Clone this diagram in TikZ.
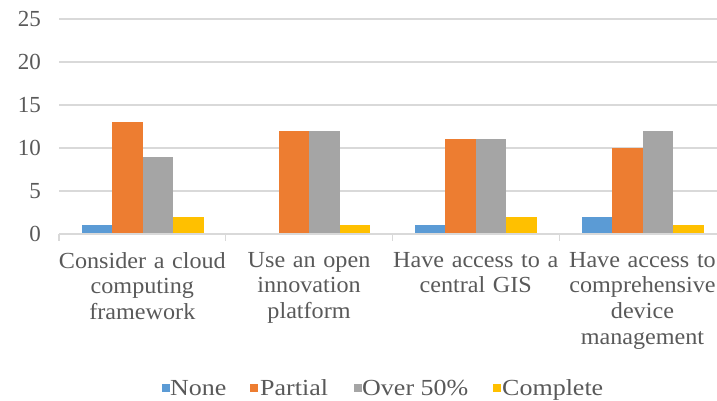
\documentclass[tikz,border=0pt]{standalone}
\usepackage{fontspec}
\setmainfont{Liberation Serif}
\newfontfamily\catfont{Liberation Serif}[FakeStretch=1.05]
\newfontfamily\legendfont{Liberation Serif}[FakeStretch=1.13]

\definecolor{cNone}{HTML}{5B9BD5}
\definecolor{cPartial}{HTML}{ED7D31}
\definecolor{cOver}{HTML}{A5A5A5}
\definecolor{cComplete}{HTML}{FFC000}
\definecolor{labelgray}{HTML}{595959}
\definecolor{gridgray}{HTML}{D9D9D9}

% geometry of the plot (1 unit = 1 px, y grows downwards)
\def\baseY{234}       % y of the value 0
\def\unitH{8.6}       % height of one unit
\def\catX{59}         % left end of the category axis
\def\catW{166.7}      % width of one category
\def\gapW{22.5}       % gap before the first bar of a group
\def\barW{30.5}       % width of a single bar

% \chartbar{category}{series}{value}{colour}
\newcommand\chartbar[4]{%
  \fill[#4] ({\catX+\catW*#1+\gapW+\barW*#2},\baseY)
    rectangle ++(\barW,{-\unitH*#3});}

\tikzset{
  gridline/.style={draw=gridgray, line width=1.2pt},
  axisline/.style={draw=gridgray, line width=1.2pt},
  ylabel/.style={anchor=east, inner sep=0pt, text=labelgray},
  catlabel/.style={anchor=north, inner sep=0pt, align=center,
    text=labelgray, text width=190pt,
    font=\catfont\fontsize{23}{25.7}\selectfont},
  legendkey/.style={minimum size=8pt, inner sep=0pt, draw=none},
  legendtext/.style={anchor=base west, inner sep=0pt, text=labelgray,
    font=\legendfont\fontsize{23}{25.7}\selectfont},
}

\begin{document}
\begin{tikzpicture}[x=1pt, y=-1pt, font=\fontsize{23}{25.7}\selectfont]
\useasboundingbox (0,0) rectangle (717,401);

% horizontal gridlines
\foreach \v in {5,10,15,20,25}
  \draw[gridline] (\catX,{\baseY-\unitH*\v}) -- (717,{\baseY-\unitH*\v});

% value axis labels
\foreach \v in {0,5,10,15,20,25}
  \node[ylabel] (ylab\v) at (41,{\baseY-\unitH*\v}) {\v};

% bars: None, Partial, Over 50%, Complete
\chartbar{0}{0}{1}{cNone}
\chartbar{0}{1}{13}{cPartial}
\chartbar{0}{2}{9}{cOver}
\chartbar{0}{3}{2}{cComplete}

\chartbar{1}{1}{12}{cPartial}
\chartbar{1}{2}{12}{cOver}
\chartbar{1}{3}{1}{cComplete}

\chartbar{2}{0}{1}{cNone}
\chartbar{2}{1}{11}{cPartial}
\chartbar{2}{2}{11}{cOver}
\chartbar{2}{3}{2}{cComplete}

\chartbar{3}{0}{2}{cNone}
\chartbar{3}{1}{10}{cPartial}
\chartbar{3}{2}{12}{cOver}
\chartbar{3}{3}{1}{cComplete}

% category axis with tick marks between categories
\draw[axisline] (\catX,\baseY) -- (717,\baseY);
\foreach \k in {0,1,2,3}
  \draw[axisline] ({\catX+\catW*\k},\baseY) -- ++(0,7);

% category labels
\node[catlabel] (cat1) at ({\catX+\catW*0.5},252) {Consider a cloud\\computing\\framework};
\node[catlabel] (cat2) at ({\catX+\catW*1.5},252) {Use an open\\innovation\\platform};
\node[catlabel] (cat3) at ({\catX+\catW*2.5},252) {Have access to a\\central GIS};
\node[catlabel] (cat4) at ({\catX+\catW*3.5},252) {Have access to\\comprehensive\\device\\management};

% legend
\node[legendkey, fill=cNone]     (keyNone)     at (165.5,388) {};
\node[legendtext] (txtNone)     at (170,395) {None};
\node[legendkey, fill=cPartial]  (keyPartial)  at (253.5,388) {};
\node[legendtext] (txtPartial)  at (260,395) {Partial};
\node[legendkey, fill=cOver]     (keyOver)     at (357.5,388) {};
\node[legendtext] (txtOver)     at (362,395) {Over 50\%};
\node[legendkey, fill=cComplete] (keyComplete) at (496.5,388) {};
\node[legendtext] (txtComplete) at (502,395) {Complete};
\end{tikzpicture}
\end{document}
